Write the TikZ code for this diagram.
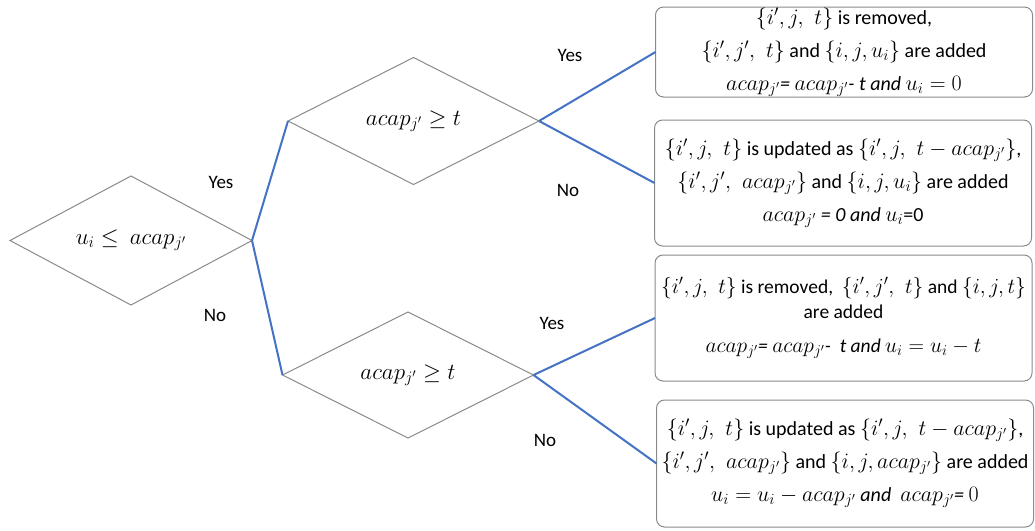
\RequirePackage{fix-cm}
\documentclass[tikz,border=0pt]{standalone}
\usepackage[no-math]{fontspec}
\setmainfont{Carlito}
\DeclareMathSizes{20}{22}{15.5}{11}
\DeclareMathSizes{19.5}{21.5}{15}{11}
\DeclareMathSizes{21}{23}{16}{12}
\thickmuskip=5mu
\medmuskip=4mu
\thinmuskip=3mu
\newcommand{\gp}{\mskip 6mu}
\usetikzlibrary{shapes.geometric}
\definecolor{linkblue}{HTML}{4472C4}
\definecolor{edgegray}{HTML}{8A8A8A}
\begin{document}
\begin{tikzpicture}[x=1pt,y=-1pt,
  decision/.style={diamond, draw=edgegray, line width=1pt, inner sep=0pt, outer sep=0pt,
    aspect=1.9, font=\fontsize{21}{24}\selectfont},
  result/.style={draw=edgegray, line width=1pt, rounded corners=8pt, minimum width=377pt,
    align=center, inner sep=0pt, outer sep=0pt,
    font=\fontsize{20}{33}\selectfont},
  link/.style={draw=linkblue, line width=2pt},
  lbl/.style={font=\fontsize{19}{22}\selectfont, inner sep=0pt}]
\useasboundingbox (0,0) rectangle (1035,530);

\node[decision, minimum width=242pt, minimum height=129pt] (d1) at (131,240.5) {$u_i \leq\ acap_{j'}$};
\node[decision, minimum width=251pt, minimum height=127pt] (d2) at (413.5,121) {$acap_{j'} \geq t$};
\node[decision, minimum width=251pt, minimum height=126pt] (d3) at (408,375) {$acap_{j'} \geq t$};

\node[result, minimum height=90pt] (r1) at (844,52)
  {$\{i',j,\gp t\}$ is removed,\\
   $\{i',j',\gp t\}$ and $\{i,j,u_i\}$ are added\\
   $acap_{j'}$\textit{= }$acap_{j'}$\textit{- t and }$u_i=0$};
\node[result, minimum height=126pt] (r2) at (843,183)
  {$\{i',j,\gp t\}$ is updated as $\{i',j,\gp t-acap_{j'}\}$,\\
   $\{i',j',\gp acap_{j'}\}$ and $\{i,j,u_i\}$ are added\\
   $acap_{j'}$ \textit{= 0 and} $u_i$=0};
\node[result, minimum height=126pt, font=\fontsize{19.5}{25}\selectfont] (r3) at (843.5,318)
  {$\{i',j,\gp t\}$ is removed, \ $\{i',j',\gp t\}$ and $\{i,j,t\}$\\
   are added\\[9pt]
   $acap_{j'}$\textit{= }$acap_{j'}$\textit{-\ \ t and }$u_i=u_i-t$};
\node[result, minimum height=127pt] (r4) at (845,463.5)
  {$\{i',j,\gp t\}$ is updated as $\{i',j,\gp t-acap_{j'}\}$,\\
   $\{i',j',\gp acap_{j'}\}$ and $\{i,j,acap_{j'}\}$ are added\\
   $u_i=u_i-acap_{j'}$ \textit{and} \ $acap_{j'}$\textit{= }$0$};

\node[lbl] (y1) at (221,182) {Yes};
\node[lbl] (n1) at (215,315) {No};
\node[lbl] (y2) at (570,55) {Yes};
\node[lbl] (n2) at (568,190) {No};
\node[lbl] (y3) at (552,323) {Yes};
\node[lbl] (n3) at (545,440) {No};

\draw[link] (d1.east) -- (d2.west);
\draw[link] (d1.east) -- (d3.west);
\draw[link] (d2.east) -- (r1.west);
\draw[link] (d2.east) -- (r2.west);
\draw[link] (d3.east) -- (r3.west);
\draw[link] (d3.east) -- (r4.west);
\end{tikzpicture}
\end{document}
